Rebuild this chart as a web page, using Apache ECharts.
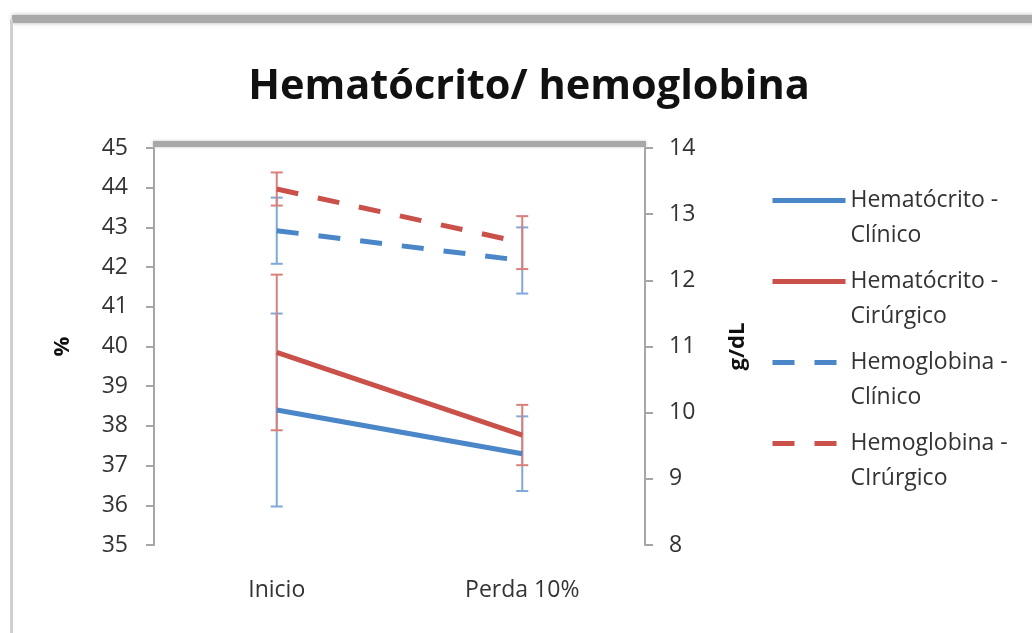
<!DOCTYPE html>
<html>
<head>
<meta charset="utf-8">
<script src="https://cdn.jsdelivr.net/npm/echarts@6/dist/echarts.min.js"></script>
<style>
html,body{margin:0;padding:0;background:#fff;}
#chart{width:1032px;height:633px;}
</style>
</head>
<body>
<div id="chart"></div>
<script>
const categories = ['Inicio', 'Perda 10%'];
const seriesNames = ['Hematócrito -\nClínico', 'Hematócrito -\nCirúrgico', 'Hemoglobina -\nClínico', 'Hemoglobina -\nCIrúrgico'];
const hctClinico = [38.4, 37.3];
const hctClinicoErr = [2.43, 0.94];
const hctCirurgico = [39.85, 37.77];
const hctCirurgicoErr = [1.96, 0.76];
const hbClinico = [12.75, 12.3];
const hbClinicoErr = [0.5, 0.5];
const hbCirurgico = [13.38, 12.57];
const hbCirurgicoErr = [0.25, 0.4];
const leftTicks = {min: 35, max: 45, interval: 1};
const rightTicks = {min: 8, max: 14, interval: 1};

const BLUE = '#4a86c8', RED = '#c9514a';
const BLUE_ERR = '#7fa9d9', RED_ERR = '#d9807a';
const FONT = 'Open Sans';

function errData(vals, errs) {
  return vals.map((v, i) => [i, v - errs[i], v + errs[i]]);
}
function errRenderer(color) {
  return function (params, api) {
    const x = api.value(0);
    const lo = api.coord([x, api.value(1)]);
    const hi = api.coord([x, api.value(2)]);
    const cw = 6;
    const st = {stroke: color, lineWidth: 2};
    return {
      type: 'group',
      children: [
        {type: 'line', shape: {x1: hi[0], y1: hi[1], x2: lo[0], y2: lo[1]}, style: st},
        {type: 'line', shape: {x1: hi[0] - cw, y1: hi[1], x2: hi[0] + cw, y2: hi[1]}, style: st},
        {type: 'line', shape: {x1: lo[0] - cw, y1: lo[1], x2: lo[0] + cw, y2: lo[1]}, style: st}
      ]
    };
  };
}

const chart = echarts.init(document.getElementById('chart'));
const axisCommon = {
  type: 'value',
  nameLocation: 'middle',
  nameRotate: 90,
  nameTextStyle: {fontFamily: FONT, fontWeight: 'bold', fontSize: 22, color: '#111'},
  axisLine: {show: true, lineStyle: {color: '#a6a6a6', width: 2}},
  axisTick: {show: true, inside: false, length: 8, lineStyle: {color: '#a6a6a6', width: 2}},
  splitLine: {show: false},
  axisLabel: {fontFamily: FONT, fontSize: 23, color: '#333'}
};
const option = {
  backgroundColor: '#fff',
  animation: false,
  title: {
    text: 'Hematócrito/ hemoglobina',
    left: 524, top: 61, textAlign: 'center',
    textStyle: {fontFamily: FONT, fontWeight: 'bold', fontSize: 41.5, color: '#111'}
  },
  graphic: [
    {type: 'rect', shape: {x: 12, y: 15, width: 1030, height: 8}, style: {fill: '#a9a9a9', shadowBlur: 4, shadowColor: 'rgba(0,0,0,0.3)'}, z: 0},
    {type: 'rect', shape: {x: 10, y: 20, width: 3, height: 620}, style: {fill: '#cfcfcf'}, z: 0},
    {type: 'rect', shape: {x: 153, y: 141, width: 493, height: 6}, style: {fill: '#a8a8a8', shadowBlur: 3, shadowColor: 'rgba(0,0,0,0.25)'}, z: 0}
  ],
  grid: {left: 154, right: 387, top: 148, bottom: 88},
  legend: {
    orient: 'vertical',
    left: 770, top: 148, padding: 0,
    itemWidth: 73, itemHeight: 6, itemGap: -24,
    data: seriesNames,
    formatter: function (name) { return '\n' + name; },
    itemStyle: {opacity: 0},
    lineStyle: {width: 5},
    textStyle: {fontFamily: FONT, fontSize: 23, color: '#333', lineHeight: 35}
  },
  xAxis: {
    type: 'category',
    data: categories,
    boundaryGap: true,
    axisLine: {show: false},
    axisTick: {show: false},
    axisLabel: {fontFamily: FONT, fontSize: 23, color: '#333', margin: 34}
  },
  yAxis: [
    Object.assign({}, axisCommon, {position: 'left', name: '%', nameGap: 80, min: leftTicks.min, max: leftTicks.max, interval: leftTicks.interval, axisLabel: Object.assign({}, axisCommon.axisLabel, {margin: 26})}),
    Object.assign({}, axisCommon, {position: 'right', name: 'g/dL', nameGap: 82, min: rightTicks.min, max: rightTicks.max, interval: rightTicks.interval, axisLabel: Object.assign({}, axisCommon.axisLabel, {margin: 24})})
  ],
  series: [
    {type: 'custom', yAxisIndex: 0, renderItem: errRenderer(BLUE_ERR), data: errData(hctClinico, hctClinicoErr), z: 1, silent: true},
    {type: 'custom', yAxisIndex: 0, renderItem: errRenderer(RED_ERR), data: errData(hctCirurgico, hctCirurgicoErr), z: 1, silent: true},
    {type: 'custom', yAxisIndex: 1, renderItem: errRenderer(BLUE_ERR), data: errData(hbClinico, hbClinicoErr), z: 1, silent: true},
    {type: 'custom', yAxisIndex: 1, renderItem: errRenderer(RED_ERR), data: errData(hbCirurgico, hbCirurgicoErr), z: 1, silent: true},
    {name: seriesNames[0], type: 'line', yAxisIndex: 0, data: hctClinico, symbol: 'none', lineStyle: {color: BLUE, width: 5}, itemStyle: {color: BLUE}, z: 3},
    {name: seriesNames[1], type: 'line', yAxisIndex: 0, data: hctCirurgico, symbol: 'none', lineStyle: {color: RED, width: 5}, itemStyle: {color: RED}, z: 3},
    {name: seriesNames[2], type: 'line', yAxisIndex: 1, data: hbClinico, symbol: 'none', lineStyle: {color: BLUE, width: 5, type: [22, 20]}, itemStyle: {color: BLUE}, z: 3},
    {name: seriesNames[3], type: 'line', yAxisIndex: 1, data: hbCirurgico, symbol: 'none', lineStyle: {color: RED, width: 5, type: [22, 20]}, itemStyle: {color: RED}, z: 3}
  ]
};
chart.setOption(option);
</script>
</body>
</html>
